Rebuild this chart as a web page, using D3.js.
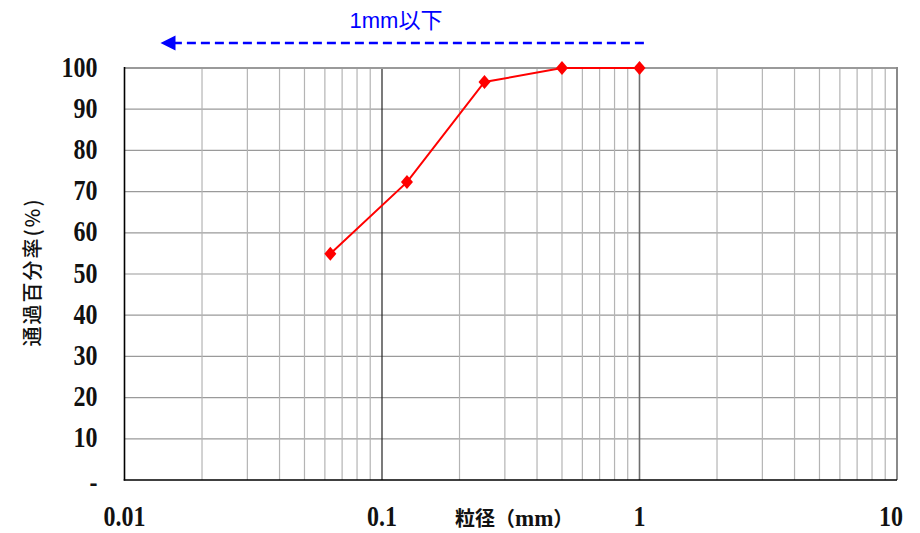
<!DOCTYPE html>
<html><head><meta charset="utf-8">
<script src="https://cdn.jsdelivr.net/npm/d3@7"></script>
<style>
html,body{margin:0;padding:0;background:#fff;}
svg{display:block;}
</style></head>
<body>
<div id="chart"></div>
<script>
// ---- data ----
const sizes = [0.063, 0.125, 0.25, 0.5, 1];          // 粒径 (mm)
const passing = [54.9, 72.3, 96.6, 100, 100];         // 通過百分率 (%)
const xTickValues = [0.01, 0.1, 1, 10];
const xTickLabels = ["0.01", "0.1", "1", "10"];
const yTickValues = [0, 10, 20, 30, 40, 50, 60, 70, 80, 90, 100];
const yTickLabels = ["-", "10", "20", "30", "40", "50", "60", "70", "80", "90", "100"];
const xTitle = "粒径";
const xTitleUnit = "mm";
const yTitle = "通過百分率(%)";
const annotationText = "1mm以下";
const annotationRange = [1.04, 0.0138];   // arrow from → to (mm)

const W = 920, H = 533;
const svg = d3.select("#chart").append("svg").attr("width", W).attr("height", H);

const x = d3.scaleLog().domain([0.01, 10]).range([124.5, 897]);
const y = d3.scaleLinear().domain([0, 100]).range([480, 68]);

const serif = "'Liberation Serif','DejaVu Serif',serif";
const cjk = "'Noto Sans CJK JP','Noto Sans CJK SC',sans-serif";

// horizontal grid
svg.append("g").selectAll("line").data(yTickValues.filter(v => v > 0 && v < 100)).join("line")
  .attr("x1", x(0.01)).attr("x2", x(10))
  .attr("y1", d => y(d)).attr("y2", d => y(d))
  .attr("stroke", "#9a9a9a").attr("stroke-width", 1.2);

// vertical minor grid
const minor = x.ticks().filter(v => !xTickValues.includes(+v.toPrecision(6)));
svg.append("g").selectAll("line").data(minor).join("line")
  .attr("x1", d => x(d)).attr("x2", d => x(d))
  .attr("y1", y(0)).attr("y2", y(100))
  .attr("stroke", "#b4b4b4").attr("stroke-width", 1.2);

// decade lines
svg.append("line").attr("x1", x(0.1)).attr("x2", x(0.1)).attr("y1", y(0)).attr("y2", y(100))
  .attr("stroke", "#222").attr("stroke-width", 1.2);
svg.append("line").attr("x1", x(1)).attr("x2", x(1)).attr("y1", y(0)).attr("y2", y(100))
  .attr("stroke", "#6e6e6e").attr("stroke-width", 1.6);

// top & right border
svg.append("line").attr("x1", x(0.01)).attr("x2", x(10)).attr("y1", y(100)).attr("y2", y(100))
  .attr("stroke", "#9a9a9a").attr("stroke-width", 2);
svg.append("line").attr("x1", x(10)).attr("x2", x(10)).attr("y1", y(100) - 1).attr("y2", y(0))
  .attr("stroke", "#8a8a8a").attr("stroke-width", 2);

// left & bottom axis
svg.append("line").attr("x1", x(0.01)).attr("x2", x(0.01)).attr("y1", y(100) - 1).attr("y2", y(0) + 0.5)
  .attr("stroke", "#000").attr("stroke-width", 1.6);
svg.append("line").attr("x1", x(0.01) - 0.8).attr("x2", x(10)).attr("y1", y(0)).attr("y2", y(0))
  .attr("stroke", "#000").attr("stroke-width", 1.6);

// y tick labels
svg.append("g").selectAll("text").data(yTickValues).join("text")
  .attr("transform", (d, i) => `translate(97.5,${y(d) + (i === 0 ? 12 : 8.5)}) scale(1,1.2)`)
  .attr("text-anchor", "end")
  .attr("font-family", serif).attr("font-weight", "bold").attr("font-size", 24)
  .attr("fill", "#111")
  .text((d, i) => yTickLabels[i]);

// x tick labels
svg.append("g").selectAll("text").data(xTickValues).join("text")
  .attr("transform", (d, i) => {
    const px = Math.min(x(d), W - 29);
    return `translate(${px},526) scale(1,1.2)`;
  })
  .attr("text-anchor", "middle")
  .attr("font-family", serif).attr("font-weight", "bold").attr("font-size", 24)
  .attr("fill", "#111")
  .text((d, i) => xTickLabels[i]);

// x title
const xt = svg.append("text").attr("x", 455).attr("y", 526)
  .attr("font-weight", "bold").attr("fill", "#111");
xt.append("tspan").attr("font-family", cjk).attr("font-size", 20).text(xTitle + "（");
xt.append("tspan").attr("font-family", serif).attr("font-size", 23).text(xTitleUnit);
xt.append("tspan").attr("font-family", cjk).attr("font-size", 20).text("）");

// y title
svg.append("text")
  .attr("transform", "translate(40,272) rotate(-90)")
  .attr("text-anchor", "middle")
  .attr("font-family", cjk).attr("font-weight", 500).attr("font-size", 20)
  .attr("letter-spacing", 2)
  .attr("fill", "#111")
  .text(yTitle);

// data line
const pts = sizes.map((s, i) => [s, passing[i]]);
svg.append("path").datum(pts)
  .attr("d", d3.line().x(d => x(d[0])).y(d => y(d[1])))
  .attr("fill", "none").attr("stroke", "#ff0000").attr("stroke-width", 2);
svg.append("g").selectAll("path").data(pts).join("path")
  .attr("transform", d => `translate(${x(d[0])},${y(d[1])})`)
  .attr("d", "M0,-7L6,0L0,7L-6,0Z")
  .attr("fill", "#ff0000");

// annotation arrow
const ay = 43;
const x0 = x(annotationRange[0]), x1 = x(annotationRange[1]);
svg.append("line").attr("x1", x0).attr("x2", x1 + 12).attr("y1", ay).attr("y2", ay)
  .attr("stroke", "#0000ff").attr("stroke-width", 2.5).attr("stroke-dasharray", "9,5");
svg.append("path")
  .attr("d", `M${x1},${ay}L${x1 + 15},${ay - 7.5}L${x1 + 15},${ay + 7.5}Z`)
  .attr("fill", "#0000ff");
svg.append("text").attr("x", 396).attr("y", 28).attr("text-anchor", "middle")
  .attr("font-family", "'Liberation Sans','Noto Sans CJK JP',sans-serif")
  .attr("font-size", 22).attr("fill", "#0000ff")
  .text(annotationText);
</script>
</body></html>
